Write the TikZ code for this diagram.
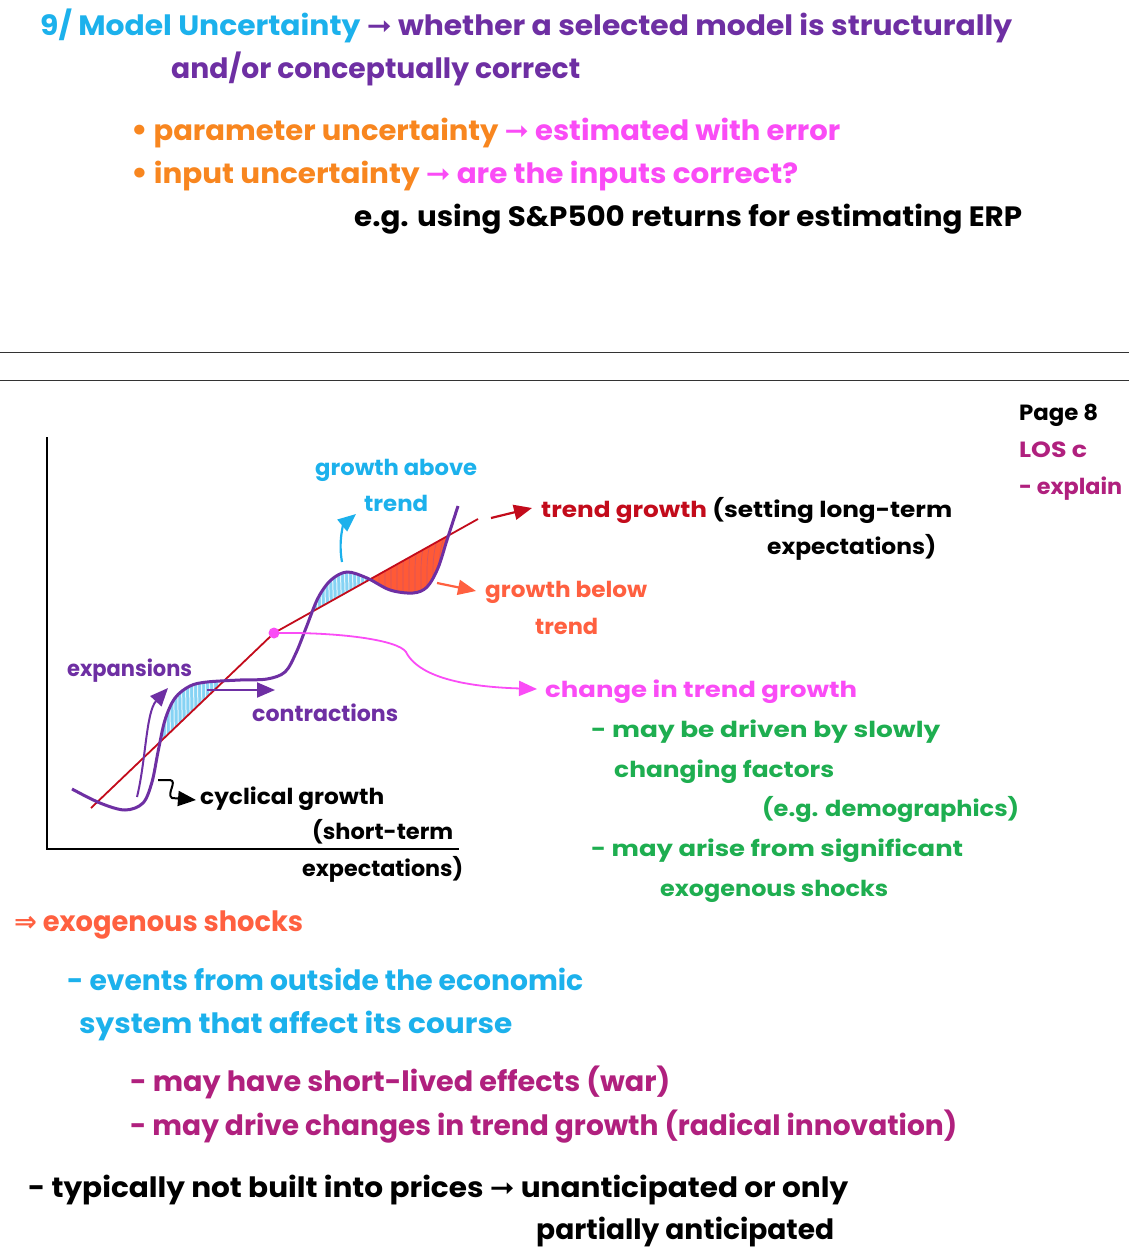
\documentclass[tikz,border=0pt]{standalone}
\usepackage{fontspec}
\usepackage{graphicx}
\setmainfont{Poppins}
\newfontfamily\symf{DejaVu Sans}
\usetikzlibrary{arrows.meta}
\definecolor{cblue}{HTML}{1CB1EC}
\definecolor{cpurple}{HTML}{6E2FA3}
\definecolor{corange}{HTML}{F8861F}
\definecolor{cmag}{HTML}{FA4CF6}
\definecolor{cdred}{HTML}{C30B1B}
\definecolor{ccoral}{HTML}{FF6040}
\definecolor{cgreen}{HTML}{1EAE50}
\definecolor{cplum}{HTML}{B0207E}
\definecolor{clblue}{HTML}{86D3F4}
\definecolor{credfill}{HTML}{FF5A36}
\newcommand\fitline[2]{\resizebox{#1pt}{\height}{#2}}
\newcommand\ar{{\symf\bfseries ➞}}
\newcommand\curvepath{plot[smooth,tension=0.55] coordinates {(72,789) (100,803) (125,810) (143,803) (152,782) (158,752) (165,720) (175,698) (190,686) (207,682) (240,680) (267,679) (285,672) (296,653) (306,628) (318,598) (331,580) (347,572) (367,578) (390,590) (413,593) (427,587) (438,568) (447,540) (458,506)}}
\tikzset{
  big/.style={anchor=base west, inner sep=0pt, font=\fontsize{28}{30}\selectfont\bfseries},
  mid/.style={anchor=base west, inner sep=0pt, font=\fontsize{22}{24}\selectfont\bfseries},
  rule/.style={draw=black!80, line width=0.8pt},
  axis/.style={draw=black, line width=2pt},
  trendline/.style={draw=cdred, line width=1.8pt},
  cyc/.style={draw=cpurple, line width=3pt},
  tip/.style={-{Triangle[length=18pt,width=15pt]}},
}
\begin{document}
\begin{tikzpicture}[x=1pt,y=-1pt]
\useasboundingbox (0,0) rectangle (1129,1256);
\fill[white] (0,0) rectangle (1129,1256);

% ---- top block
\node[big] (t1) at (40,35) {\fitline{972}{\color{cblue}9/ Model Uncertainty \color{cpurple}\ar{} whether a selected model is structurally}};
\node[big] (t2) at (171,78) {\fitline{409}{\color{cpurple}and/or conceptually correct}};
\node[big] (t3) at (130,140) {\fitline{710}{\color{corange}{\symf•}\,parameter uncertainty \color{cmag}\ar{} estimated with error}};
\node[big] (t4) at (130,183) {\fitline{668}{\color{corange}{\symf•}\,input uncertainty \color{cmag}\ar{} are the inputs correct?}};
\node[big] (t5) at (354,226) {\fitline{668}{\color{black}e.g. using S\&P500 returns for estimating ERP}};

% ---- rules
\coordinate (r1a) at (0,352); \coordinate (r1b) at (1129,352);
\coordinate (r2a) at (0,380); \coordinate (r2b) at (1129,380);
\draw[rule] (r1a) -- (r1b);
\draw[rule] (r2a) -- (r2b);

% ---- page note
\node[mid] (p1) at (1019,420) {\fitline{79}{\color{black}Page 8}};
\node[mid] (p2) at (1019,457) {\fitline{68}{\color{cplum}LOS c}};
\node[mid] (p3) at (1019,494) {\fitline{103}{\color{cplum}- explain}};

% ---- axes
\coordinate (ytop) at (47,437); \coordinate (orig) at (47,849); \coordinate (xend) at (459,849);
\draw[axis] (ytop) -- (orig) -- (xend);

% ---- shaded regions
\begin{scope}
  \clip \curvepath -- (470,900) -- (60,900) -- cycle;
  \fill[clblue] (162,740) -- (218,686) -- (218,500) -- (162,500) -- cycle;
  \fill[clblue] (313,611) -- (368,580) -- (368,500) -- (313,500) -- cycle;
  \foreach \i in {165,169,...,216} { \draw[white, line width=1pt, opacity=0.8] (\i,660) -- (\i+2,760); }
  \foreach \i in {316,320,...,366} { \draw[white, line width=1pt, opacity=0.8] (\i,560) -- (\i+2,620); }
\end{scope}
\begin{scope}
  \clip \curvepath -- (470,400) -- (60,400) -- cycle;
  \clip (368,580) -- (448,536) -- (448,700) -- (368,700) -- cycle;
  \fill[credfill] (368,530) rectangle (450,600);
  \foreach \i in {372,378,...,446} { \draw[cdred!70, line width=0.7pt] (\i,600) .. controls (\i+3,580) and (\i-2,565) .. (\i+5,540); }
\end{scope}

% ---- trend line and curve
\coordinate (tl0) at (91,808);
\coordinate (tl1) at (274,633);
\coordinate (tl2) at (478,519);
\draw[trendline] (tl0) -- (tl1) -- (tl2);
\draw[cyc] \curvepath;

% ---- chart labels
\node[mid] (ga) at (315,475) {\fitline{162}{\color{cblue}growth above}};
\node[mid] (gat) at (364,511) {\fitline{64}{\color{cblue}trend}};
\node[mid] (tg) at (541,517) {\fitline{411}{\color{cdred}trend growth \color{black}(setting long-term}};
\node[mid] (tg2) at (767,554) {\fitline{169}{\color{black}expectations)}};
\node[mid] (gb) at (485,597) {\fitline{162}{\color{ccoral}growth below}};
\node[mid] (gbt) at (535,634) {\fitline{63}{\color{ccoral}trend}};
\node[mid] (ex) at (67,676) {\fitline{125}{\color{cpurple}expansions}};
\node[mid] (co) at (252,721) {\fitline{146}{\color{cpurple}contractions}};
\node[mid] (cg) at (200,804) {\fitline{184}{\color{black}cyclical growth}};
\node[mid] (cg2) at (312,839) {\fitline{141}{\color{black}(short-term}};
\node[mid] (cg3) at (302,876) {\fitline{161}{\color{black}expectations)}};
\node[mid] (ct) at (545,697) {\fitline{312}{\color{cmag}change in trend growth}};
\node[mid] (g1) at (591,737) {\fitline{349}{\color{cgreen}- may be driven by slowly}};
\node[mid] (g2) at (614,777) {\fitline{220}{\color{cgreen}changing factors}};
\node[mid] (g3) at (762,816) {\fitline{257}{\color{cgreen}(e.g. demographics)}};
\node[mid] (g4) at (591,856) {\fitline{372}{\color{cgreen}- may arise from significant}};
\node[mid] (g5) at (660,896) {\fitline{228}{\color{cgreen}exogenous shocks}};

% ---- chart arrows
\coordinate (trA) at (491,518); \coordinate (trB) at (532,508);
\draw[cdred, line width=2.2pt, tip] (trA) -- (trB);
\coordinate (obA) at (437,583); \coordinate (obB) at (476,591);
\draw[ccoral, line width=2.2pt, tip] (obA) -- (obB);
\coordinate (baA) at (342,562); \coordinate (baB) at (356,514);
\draw[cblue, line width=2.2pt, tip] (baA) .. controls (338,540) and (344,524) .. (baB);
\coordinate (exA) at (137,797); \coordinate (exB) at (168,688);
\draw[cpurple, line width=2pt, tip] (exA) .. controls (146,760) and (146,712) .. (exB);
\coordinate (coA) at (207,690); \coordinate (coB) at (275,690);
\draw[cpurple, line width=2pt, tip] (coA) -- (coB);
\coordinate (cyA) at (158,780); \coordinate (cyB) at (196,800);
\draw[black, line width=2pt, tip] (cyA) -- (170,780) .. controls (178,781) and (166,794) .. (172,798) -- (cyB);
\coordinate (dot) at (274,633);
\fill[cmag] (dot) circle (5.5);
\coordinate (ctB) at (537,689);
\draw[cmag, line width=1.8pt, tip] (dot) .. controls (340,632) and (398,640) .. (406,652) .. controls (414,668) and (440,686) .. (ctB);

% ---- bottom block
\node[big] (b1) at (14,931) {\fitline{289}{\color{ccoral}{\symf\bfseries ⇒} exogenous shocks}};
\node[big] (b2) at (67,990) {\fitline{516}{\color{cblue}- events from outside the economic}};
\node[big] (b3) at (79,1033) {\fitline{433}{\color{cblue}system that affect its course}};
\node[big] (b4) at (130,1091) {\fitline{540}{\color{cplum}- may have short-lived effects (war)}};
\node[big] (b5) at (130,1135) {\fitline{827}{\color{cplum}- may drive changes in trend growth (radical innovation)}};
\node[big] (b6) at (28,1197) {\fitline{820}{\color{black}- typically not built into prices \ar{} unanticipated or only}};
\node[big] (b7) at (536,1239) {\fitline{298}{\color{black}partially anticipated}};
\end{tikzpicture}
\end{document}
